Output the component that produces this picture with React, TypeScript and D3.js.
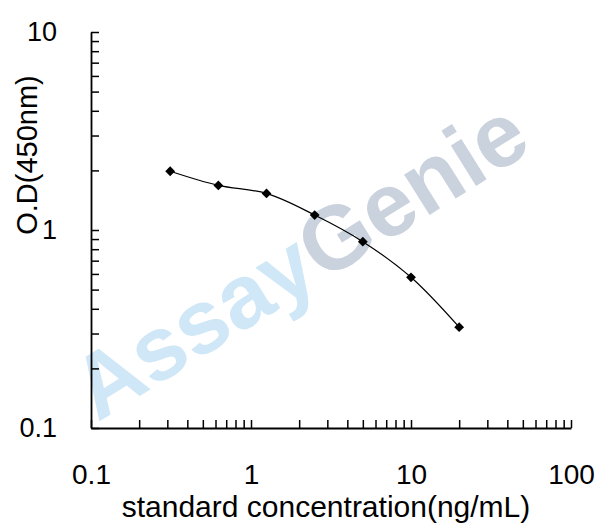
import { axisBottom, axisLeft, curveCatmullRom, line, scaleLog, select, symbol, symbolSquare } from 'd3';
import { useEffect, useRef } from 'react';

const concentrations = [0.3125, 0.625, 1.25, 2.5, 5, 10, 20];
const odValues = [1.98, 1.68, 1.53, 1.19, 0.873, 0.577, 0.323];
const xTickLabels = ['0.1', '1', '10', '100'];
const yTickLabels = ['0.1', '1', '10'];

const FONT = "'Liberation Sans', Arial, sans-serif";

export default function App() {
  const width = 608;
  const height = 532;
  const margin = { top: 32, right: 37, bottom: 104, left: 91 };
  const gx = useRef<SVGGElement>(null);
  const gy = useRef<SVGGElement>(null);

  const xScale = scaleLog()
    .domain([0.1, 100])
    .range([margin.left, width - margin.right]);
  const yScale = scaleLog()
    .domain([0.1, 10])
    .range([height - margin.bottom, margin.top]);

  const data = concentrations.map((c, i) => ({ c, od: odValues[i] }));

  const lineGenerator = line<{ c: number; od: number }>()
    .x((d) => xScale(d.c))
    .y((d) => yScale(d.od))
    .curve(curveCatmullRom.alpha(0.5));

  // square turned 45deg, like Excel's diamond marker
  const marker = symbol().type(symbolSquare).size(48)();

  useEffect(() => {
    const ax = axisBottom(xScale)
      .tickSizeInner(-8)
      .tickSizeOuter(0)
      .tickPadding(36)
      .tickFormat((d: any) => {
        const s = String(+d);
        return xTickLabels.includes(s) ? s : '';
      });
    const g = select(gx.current!).call(ax as any);
    g.selectAll('line').attr('stroke', '#000').attr('stroke-width', 1.5);
    g.select('.domain').attr('stroke', '#000').attr('stroke-width', 1.8);
    g.selectAll('text')
      .attr('font-family', FONT)
      .attr('font-size', 28)
      .attr('fill', '#000');
  }, []);

  useEffect(() => {
    const ay = axisLeft(yScale)
      .tickSizeInner(-8)
      .tickSizeOuter(0)
      .tickPadding(34)
      .tickFormat((d: any) => {
        const s = String(+d);
        return yTickLabels.includes(s) ? s : '';
      });
    const g = select(gy.current!).call(ay as any);
    g.selectAll('line').attr('stroke', '#000').attr('stroke-width', 1.5);
    g.select('.domain').attr('stroke', '#000').attr('stroke-width', 1.8);
    g.selectAll('text')
      .attr('font-family', FONT)
      .attr('font-size', 27)
      .attr('fill', '#000');
  }, []);

  return (
    <svg
      width={width}
      height={height}
      style={{ position: 'absolute', left: 0, top: 0, background: '#fff' }}>
      {/* watermark */}
      <text
        transform='translate(316,286) rotate(-32)'
        textAnchor='middle'
        fontFamily={FONT}
        fontWeight='bold'
        fontSize={90}>
        <tspan fill='#cfe7f6'>Assay</tspan>
        <tspan fill='#c9d2dd'>Genie</tspan>
      </text>
      <g ref={gx} transform={`translate(0, ${height - margin.bottom})`}></g>
      <g ref={gy} transform={`translate(${margin.left}, 0)`}></g>
      <path d={lineGenerator(data) ?? ''} fill='none' stroke='#000' strokeWidth={1.2} />
      {data.map((d) => (
        <path
          key={d.c}
          d={marker ?? ''}
          transform={`translate(${xScale(d.c)}, ${yScale(d.od)}) rotate(45)`}
          fill='#000'
        />
      ))}
      <text
        x={326}
        y={517}
        textAnchor='middle'
        fontFamily={FONT}
        fontSize={30}
        fill='#000'>
        standard concentration(ng/mL)
      </text>
      <text
        transform='translate(37,155) rotate(-90)'
        textAnchor='middle'
        fontFamily={FONT}
        fontSize={29}
        fill='#000'>
        O.D(450nm)
      </text>
    </svg>
  );
}
